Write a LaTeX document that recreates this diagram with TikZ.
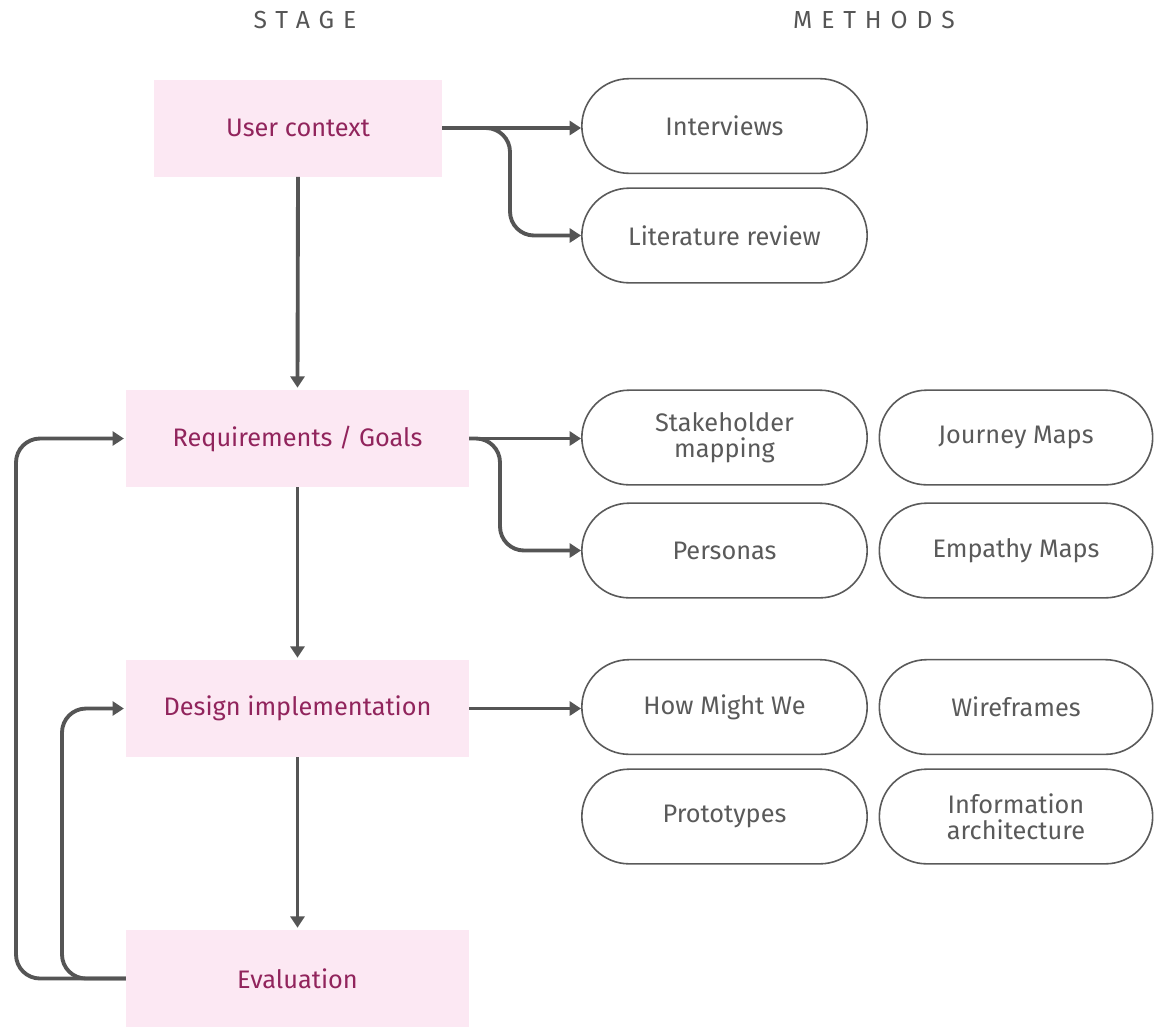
\documentclass[tikz,border=0pt]{standalone}
\usepackage{fontspec}
\setmainfont{Fira Sans}
\usetikzlibrary{arrows.meta,shapes.misc}
\definecolor{stagefill}{RGB}{252,232,243}
\definecolor{stagetext}{RGB}{145,36,92}
\definecolor{linegray}{RGB}{85,85,85}
\definecolor{pillgray}{RGB}{90,90,90}
\definecolor{headgray}{RGB}{85,85,85}
\tikzset{
  stagebox/.style={fill=stagefill, text=stagetext, inner sep=0pt,
    minimum width=257pt, minimum height=72.75pt, font=\fontsize{19}{21}\selectfont},
  pill/.style={rounded rectangle, draw=pillgray, line width=1.2pt, fill=white,
    text=pillgray, inner sep=0pt, minimum width=214pt, minimum height=71pt,
    align=center, font=\fontsize{19}{19.5}\selectfont},
  pillR/.style={pill, minimum width=205pt},
  header/.style={text=headgray, font=\fontsize{18.5}{20}\selectfont\addfontfeature{LetterSpace=36}},
  flow/.style={draw=linegray, line width=2.9pt, -{Triangle[length=8.5pt,width=10.5pt]}},
}
\begin{document}
\begin{tikzpicture}[x=0.75pt,y=-0.75pt]
\useasboundingbox (0,0) rectangle (1155,1026);

% column headers
\node[header] (hstage) at (305,20) {STAGE};
\node[header] (hmeth) at (874,20) {METHODS};

% stages
\node[stagebox, minimum width=216pt] (uc) at (298,128) {User context};
\node[stagebox] (req) at (297.5,438.5) {Requirements / Goals};
\node[stagebox] (des) at (297.5,708.5) {Design implementation};
\node[stagebox] (ev) at (297.5,978.5) {Evaluation};

% methods
\node[pill] (int) at (724.5,126) {Interviews};
\node[pill] (lit) at (724.5,235.5) {Literature review};
\node[pill] (stk) at (724.5,437.5) {Stakeholder\\mapping};
\node[pillR] (jm) at (1016,437.5) {Journey Maps};
\node[pill] (per) at (724.5,550.5) {Personas};
\node[pillR] (em) at (1016,550.5) {Empathy Maps};
\node[pill] (hmw) at (724.5,707) {How Might We};
\node[pillR] (wf) at (1016,707) {Wireframes};
\node[pill] (pro) at (724.5,816.5) {Prototypes};
\node[pillR] (ia) at (1016,816.5) {Information\\architecture};

% loop guide lines
\coordinate (outer) at (16,0);
\coordinate (inner) at (62,0);
\coordinate (ucsplit) at (510,0);
\coordinate (reqsplit) at (500,0);

% stage sequence
\draw[flow] (uc.south) -- ([yshift=1.5pt]req.north);
\draw[flow] (req.south) -- ([yshift=1.5pt]des.north);
\draw[flow] (des.south) -- ([yshift=1.5pt]ev.north);

% stage to methods
\draw[flow] (uc.east) -- (int.west |- uc.east);
\draw[flow, rounded corners=18pt] (uc.east) -- (uc.east -| ucsplit) -- (lit.west -| ucsplit) -- (lit.west);
\draw[flow] (req.east) -- (stk.west |- req.east);
\draw[flow, rounded corners=18pt] (req.east) -- (req.east -| reqsplit) -- (per.west -| reqsplit) -- (per.west);
\draw[flow] (des.east) -- (hmw.west |- des.east);

% feedback loops
\draw[flow, rounded corners=18pt] (ev.west) -- (ev.west -| outer) -- (req.west -| outer) -- ([xshift=-1.5pt]req.west);
\draw[flow, rounded corners=18pt] (ev.west) -- (ev.west -| inner) -- (des.west -| inner) -- ([xshift=-1.5pt]des.west);
\end{tikzpicture}
\end{document}
